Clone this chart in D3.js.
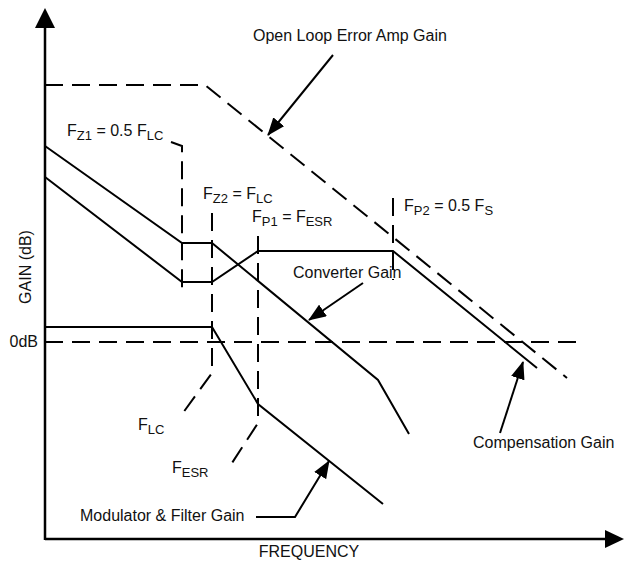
<!DOCTYPE html>
<html>
<head>
<meta charset="utf-8">
<script src="https://cdn.jsdelivr.net/npm/d3@7"></script>
<style>
  body { margin: 0; background: #fff; }
  text { font-family: "Liberation Sans", Arial, Helvetica, sans-serif; fill: #111; }
</style>
</head>
<body>
<div id="chart"></div>
<script>
// gain curves, x = log-frequency units, y = gain units (0 = 0dB)
var errorAmpGain   = [[0, 25.7], [16, 25.7], [52.2, -3.6]];
var converterGain  = [[0, 19.6], [13.7, 9.9], [16.7, 9.9], [33.3, -3.8], [36.4, -9.2]];
var compensationGain = [[0, 16.5], [13.7, 6.0], [16.7, 6.0], [21.3, 9.1], [34.8, 9.1], [49.2, -2.6]];
var modulatorGain  = [[0, 1.5], [16.7, 1.5], [21.3, -6.2], [33.8, -16.2]];
var zeroDb         = [[0, 0], [53.1, 0]];

// dashed frequency markers
var markerFz1 = [[12.6, 20.0], [13.7, 19.6], [13.7, 4.7]];
var markerFlc = [[16.7, 12.9], [16.7, -3.1], [13.5, -7.5]];
var markerFesr = [[21.3, 10.6], [21.3, -8.1], [18.7, -12.1]];
var markerFp2 = [[34.8, 14.4], [34.8, 6.2]];

// callout arrows
var arrowErrorAmp = [[28.8, 28.7], [22.3, 20.7]];
var arrowConverter = [[31.8, 5.9], [26.4, 2.2]];
var arrowCompensation = [[45.5, -9.1], [47.8, -2.0]];
var arrowModulator = [[21.1, -17.5], [25.0, -17.5], [28.4, -11.9]];

var width = 627, height = 564;

var svg = d3.select("#chart")
  .append("svg")
    .attr("width", width)
    .attr("height", height);

var x = d3.scaleLinear().domain([0, 57.7]).range([45, 622]);
var y = d3.scaleLinear().domain([-19.7, 33.2]).range([539, 10]);

var line = d3.line()
  .x(function(d) { return x(d[0]); })
  .y(function(d) { return y(d[1]); });

var defs = svg.append("defs");
defs.append("marker")
    .attr("id", "head")
    .attr("markerUnits", "userSpaceOnUse")
    .attr("viewBox", "0 0 18 14")
    .attr("refX", 17)
    .attr("refY", 7)
    .attr("markerWidth", 18)
    .attr("markerHeight", 14)
    .attr("orient", "auto")
  .append("path")
    .attr("d", "M0,0 L18,7 L0,14 Z")
    .attr("fill", "#000");

// axes
svg.append("line")
  .attr("x1", x(0)).attr("y1", y(-19.7) + 1)
  .attr("x2", x(0)).attr("y2", 26)
  .attr("stroke", "#000").attr("stroke-width", 2.5);
svg.append("path")
  .attr("d", "M" + x(0) + ",8 L" + (x(0) + 10) + ",28 L" + (x(0) - 10) + ",28 Z")
  .attr("fill", "#000");
svg.append("line")
  .attr("x1", x(0)).attr("y1", y(-19.7))
  .attr("x2", 608).attr("y2", y(-19.7))
  .attr("stroke", "#000").attr("stroke-width", 2.5);
svg.append("path")
  .attr("d", "M624," + y(-19.7) + " L605," + (y(-19.7) - 9) + " L605," + (y(-19.7) + 9) + " Z")
  .attr("fill", "#000");

// dashed curves
[errorAmpGain, zeroDb, markerFz1, markerFlc, markerFesr, markerFp2].forEach(function(d) {
  svg.append("path")
    .datum(d)
    .attr("d", line)
    .attr("fill", "none")
    .attr("stroke", "#000")
    .attr("stroke-width", 2)
    .attr("stroke-dasharray", "18,9");
});

// solid curves
[converterGain, compensationGain, modulatorGain].forEach(function(d) {
  svg.append("path")
    .datum(d)
    .attr("d", line)
    .attr("fill", "none")
    .attr("stroke", "#000")
    .attr("stroke-width", 2);
});

// callouts
[arrowErrorAmp, arrowConverter, arrowCompensation, arrowModulator].forEach(function(d) {
  svg.append("path")
    .datum(d)
    .attr("d", line)
    .attr("fill", "none")
    .attr("stroke", "#000")
    .attr("stroke-width", 2)
    .attr("marker-end", "url(#head)");
});

// labels: [text parts, x, y] -- a part flagged 1 is a subscript
var labels = [
  [[["Open Loop Error Amp Gain", 0]], 253, 41],
  [[["F", 0], ["Z1", 1], [" = 0.5 F", 0], ["LC", 1]], 67, 136],
  [[["F", 0], ["Z2", 1], [" = F", 0], ["LC", 1]], 203, 199],
  [[["F", 0], ["P1", 1], [" = F", 0], ["ESR", 1]], 252, 222],
  [[["F", 0], ["P2", 1], [" = 0.5 F", 0], ["S", 1]], 404, 211],
  [[["Converter Gain", 0]], 293, 278],
  [[["F", 0], ["LC", 1]], 138, 430],
  [[["F", 0], ["ESR", 1]], 172, 473],
  [[["Modulator & Filter Gain", 0]], 80, 521],
  [[["Compensation Gain", 0]], 473, 448]
];

labels.forEach(function(l) {
  var t = svg.append("text")
    .attr("x", l[1])
    .attr("y", l[2])
    .attr("font-size", "16px");
  var low = false;
  l[0].forEach(function(p) {
    var s = t.append("tspan").text(p[0]);
    if (p[1] && !low) { s.attr("dy", 4).attr("font-size", "13px"); low = true; }
    else if (p[1]) { s.attr("font-size", "13px"); }
    else if (low) { s.attr("dy", -4); low = false; }
  });
});

svg.append("text")
  .attr("x", 38)
  .attr("y", 347)
  .attr("font-size", "16px")
  .attr("text-anchor", "end")
  .text("0dB");

svg.append("text")
  .attr("transform", "translate(31,267) rotate(-90)")
  .attr("font-size", "16px")
  .attr("text-anchor", "middle")
  .text("GAIN (dB)");

svg.append("text")
  .attr("x", 309)
  .attr("y", 557)
  .attr("font-size", "16px")
  .attr("text-anchor", "middle")
  .text("FREQUENCY");
</script>
</body>
</html>
